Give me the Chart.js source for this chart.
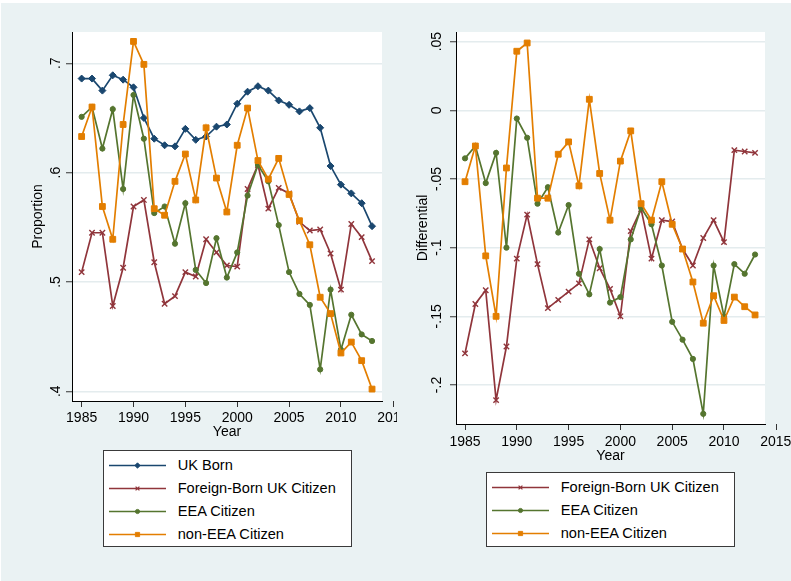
<!DOCTYPE html>
<html><head><meta charset="utf-8">
<script src="https://cdn.jsdelivr.net/npm/chart.js@4.4.1/dist/chart.umd.min.js"></script>
<style>
html,body{margin:0;padding:0;}
body{width:791px;height:581px;background:#ffffff;position:relative;overflow:hidden;font-family:"Liberation Sans",Arial,sans-serif;}
#bg{position:absolute;left:1px;top:3px;width:790px;height:578px;background:#EAF2F3;}
#cL{position:absolute;left:0;top:0;}
#cR{position:absolute;left:397px;top:0;}
.legend{position:absolute;background:#fff;border:1px solid #3a3a3a;box-sizing:border-box;}
.row{position:absolute;left:0;height:17px;width:100%;}
.row canvas{position:absolute;left:5.3px;top:0;}
.row span{position:absolute;left:73.7px;top:0;line-height:17px;font-size:14.6px;white-space:nowrap;color:#000;}
</style></head><body>
<div id="bg"></div>
<canvas id="cL" width="397" height="581"></canvas>
<canvas id="cR" width="394" height="581"></canvas>
<div id="legL" class="legend" style="left:103px;top:450px;width:249px;height:97px"></div>
<div id="legR" class="legend" style="left:486px;top:472px;width:249px;height:75px"></div>
<script>
// ---------- data ----------
const years = [1985,1986,1987,1988,1989,1990,1991,1992,1993,1994,1995,1996,1997,1998,1999,2000,2001,2002,2003,2004,2005,2006,2007,2008,2009,2010,2011,2012,2013];
const seriesNames = ["UK Born", "Foreign-Born UK Citizen", "EEA Citizen", "non-EEA Citizen"];

// Left panel: proportion
const ukBorn = [0.686,0.686,0.675,0.689,0.685,0.678,0.650,0.631,0.625,0.624,0.640,0.630,0.633,0.642,0.644,0.663,0.674,0.679,0.675,0.666,0.662,0.656,0.659,0.641,0.606,0.589,0.581,0.572,0.551];
const fbCitizen = [0.509,0.545,0.545,0.478,0.513,0.569,0.575,0.518,0.480,0.487,0.509,0.505,0.539,0.527,0.515,0.514,0.585,0.607,0.567,0.586,0.581,0.555,0.547,0.548,0.526,0.493,0.553,0.541,0.519];
const eeaCitizen = [0.651,0.660,0.622,0.658,0.585,0.671,0.631,0.563,0.569,0.535,0.572,0.511,0.499,0.540,0.504,0.527,0.579,0.607,0.592,0.552,0.509,0.489,0.479,0.420,0.493,0.438,0.470,0.452,0.446];
const nonEeaCitizen = [0.633,0.660,0.569,0.539,0.644,0.720,0.699,0.567,0.561,0.592,0.617,0.575,0.641,0.595,0.564,0.625,0.659,0.611,0.594,0.613,0.580,0.556,0.534,0.486,0.471,0.435,0.445,0.428,0.402];

// Right panel: differential
const fbDiff = [-0.177,-0.141,-0.131,-0.211,-0.172,-0.108,-0.076,-0.112,-0.144,-0.138,-0.132,-0.126,-0.094,-0.115,-0.130,-0.150,-0.088,-0.072,-0.108,-0.080,-0.081,-0.101,-0.113,-0.093,-0.080,-0.096,-0.029,-0.030,-0.031];
const eeaDiff = [-0.035,-0.026,-0.053,-0.031,-0.100,-0.006,-0.020,-0.068,-0.056,-0.089,-0.069,-0.119,-0.134,-0.101,-0.140,-0.136,-0.094,-0.071,-0.083,-0.113,-0.154,-0.167,-0.181,-0.221,-0.113,-0.150,-0.112,-0.119,-0.105];
const nonEeaDiff = [-0.052,-0.026,-0.106,-0.150,-0.042,0.043,0.049,-0.064,-0.064,-0.032,-0.023,-0.055,0.008,-0.046,-0.080,-0.037,-0.015,-0.068,-0.080,-0.052,-0.083,-0.101,-0.125,-0.155,-0.135,-0.153,-0.136,-0.143,-0.149];

// ticks
const xTicks = [1985,1990,1995,2000,2005,2010,2015];
const yTicksL = [0.4,0.5,0.6,0.7];
const yTickLabelsL = [".4",".5",".6",".7"];
const yTicksR = [-0.2,-0.15,-0.1,-0.05,0,0.05];
const yTickLabelsR = ["-.2","-.15","-.1","-.05","0",".05"];

// ---------- styles ----------
const FONT = '"Liberation Sans", Arial, sans-serif';
const styles = {
  "UK Born": {color:'#1A476F', pointStyle:'rectRot', radius:3.5, bw:1, lr:2.7},
  "Foreign-Born UK Citizen": {color:'#90353B', pointStyle:'crossRot', radius:3.8, bw:1.4, lr:2.7},
  "EEA Citizen": {color:'#55752F', pointStyle:'circle', radius:2.6, bw:1, lr:2.1},
  "non-EEA Citizen": {color:'#E37E00', pointStyle:'rect', radius:4.1, bw:1, lr:3.0}
};

function ds(name, values, order) {
  const s = styles[name];
  return {
    label: name,
    data: years.map((yr, i) => ({x: yr, y: values[i]})),
    borderColor: s.color, backgroundColor: s.color,
    pointBackgroundColor: s.color, pointBorderColor: s.color,
    pointStyle: s.pointStyle, pointRadius: s.radius, pointBorderWidth: s.bw,
    borderWidth: 1.7, tension: 0, fill: false, order: order
  };
}

const whiteArea = {
  id: 'whiteArea',
  beforeDraw(chart) {
    const a = chart.chartArea, c = chart.ctx;
    c.save(); c.fillStyle = '#ffffff';
    c.fillRect(a.left, a.top, a.right - a.left, a.bottom - a.top);
    c.restore();
  }
};
const outerTicks = {
  id: 'outerTicks',
  afterDraw(chart, args, o) {
    const s = chart.scales.x, c = chart.ctx;
    xTicks.forEach(v => {
      if (v <= s.max) return;
      const px = s.getPixelForValue(v);
      c.save();
      c.strokeStyle = '#333'; c.lineWidth = 1;
      c.beginPath(); c.moveTo(Math.round(px) + 0.5, s.top); c.lineTo(Math.round(px) + 0.5, s.top + 6); c.stroke();
      c.font = '14px ' + FONT; c.fillStyle = '#000'; c.textAlign = 'center'; c.textBaseline = 'middle';
      c.fillText(String(v), px, s.top + 6 + o.pad + 8.4);
      c.restore();
    });
  }
};

function makeChart(canvas, datasets, cfg) {
  return new Chart(canvas, {
    type: 'line',
    data: {datasets},
    options: {
      responsive: false, animation: false, devicePixelRatio: 1,
      layout: {padding: {top: 32, left: 0, right: cfg.padRight, bottom: cfg.padBottom}},
      plugins: {legend: {display: false}, tooltip: {enabled: false}, outerTicks: {pad: cfg.xPad}},
      scales: {
        x: {
          type: 'linear', min: cfg.xMin, max: cfg.xMax,
          afterBuildTicks: (sc) => { sc.ticks = xTicks.filter(v => v <= sc.max).map(v => ({value: v})); },
          afterFit: (sc) => { sc.height = cfg.xHeight; },
          ticks: {autoSkip: false, maxRotation: 0, minRotation: 0, padding: cfg.xPad, color: '#000',
                  font: {family: FONT, size: 14}, callback: (v) => String(v)},
          grid: {display: true, drawOnChartArea: false, drawTicks: true, tickLength: 6, tickColor: '#333', tickWidth: 1},
          border: {display: true, color: '#000', width: 1},
          title: {display: true, text: 'Year', color: '#000', font: {family: FONT, size: 14}, padding: {top: 0, bottom: cfg.xTitlePad}}
        },
        y: {
          type: 'linear', min: cfg.yMin, max: cfg.yMax,
          afterBuildTicks: (sc) => { sc.ticks = cfg.yTicks.map(v => ({value: v})); },
          afterFit: (sc) => { sc.width = cfg.yWidth; },
          ticks: {autoSkip: false, minRotation: 90, maxRotation: 90, crossAlign: 'center', padding: cfg.yPad, color: '#000',
                  font: {family: FONT, size: 14},
                  callback: (v) => { const i = cfg.yTicks.findIndex(t => Math.abs(t - v) < 1e-9); return i >= 0 ? cfg.yLabels[i] : ''; }},
          grid: {display: true, drawOnChartArea: true, color: '#E4ECEE', lineWidth: 1.5, drawTicks: true, tickLength: 6, tickColor: '#333', tickWidth: 1},
          border: {display: true, color: '#000', width: 1},
          title: {display: true, text: cfg.yTitle, color: '#000', font: {family: FONT, size: 14}, padding: {top: cfg.yTitlePad, bottom: 0}}
        }
      }
    },
    plugins: [whiteArea, outerTicks]
  });
}

makeChart(document.getElementById('cL'), [
  ds("UK Born", ukBorn, 3),
  ds("Foreign-Born UK Citizen", fbCitizen, 2),
  ds("EEA Citizen", eeaCitizen, 1),
  ds("non-EEA Citizen", nonEeaCitizen, 0)
], {padRight: 15, padBottom: 140, xHeight: 40, yWidth: 72, xMin: 1984.07, xMax: 2013.96, yMin: 0.3911, yMax: 0.7286,
    yTicks: yTicksL, yLabels: yTickLabelsL, yTitle: 'Proportion', yTitlePad: 29.3, yPad: 3.6, xPad: 3.2, xTitlePad: 0.6});

makeChart(document.getElementById('cR'), [
  ds("Foreign-Born UK Citizen", fbDiff, 2),
  ds("EEA Citizen", eeaDiff, 1),
  ds("non-EEA Citizen", nonEeaDiff, 0)
], {padRight: 26, padBottom: 115, xHeight: 42, yWidth: 59, xMin: 1984.13, xMax: 2013.96, yMin: -0.2284, yMax: 0.057,
    yTicks: yTicksR, yLabels: yTickLabelsR, yTitle: 'Differential', yTitlePad: 18.1, yPad: 0.5, xPad: 4.0, xTitlePad: 1.6});

// ---------- legends ----------
function buildLegend(el, names, centers) {
  names.forEach((name, i) => {
    const s = styles[name];
    const row = document.createElement('div');
    row.className = 'row';
    row.style.top = (centers[i] - 8.5 - 1) + 'px';
    const cv = document.createElement('canvas');
    cv.width = 57; cv.height = 17;
    const c = cv.getContext('2d');
    c.strokeStyle = s.color; c.lineWidth = 1.6;
    c.beginPath(); c.moveTo(0, 8.5); c.lineTo(57, 8.5); c.stroke();
    c.fillStyle = s.color; c.strokeStyle = s.color; c.lineWidth = s.bw * 0.9;
    const opts = {pointStyle: s.pointStyle, radius: s.lr, borderWidth: s.bw * 0.9, rotation: 0};
    if (Chart.helpers && Chart.helpers.drawPoint) {
      Chart.helpers.drawPoint(c, opts, 28.5, 8.5);
    } else {
      c.beginPath(); c.arc(28.5, 8.5, s.lr, 0, Math.PI * 2); c.fill();
    }
    const sp = document.createElement('span');
    sp.textContent = name;
    row.appendChild(cv); row.appendChild(sp);
    el.appendChild(row);
  });
}
buildLegend(document.getElementById('legL'), seriesNames, [15, 38.3, 61, 84.3]);
buildLegend(document.getElementById('legR'), seriesNames.slice(1), [15.3, 38, 61.3]);
</script>
</body></html>
